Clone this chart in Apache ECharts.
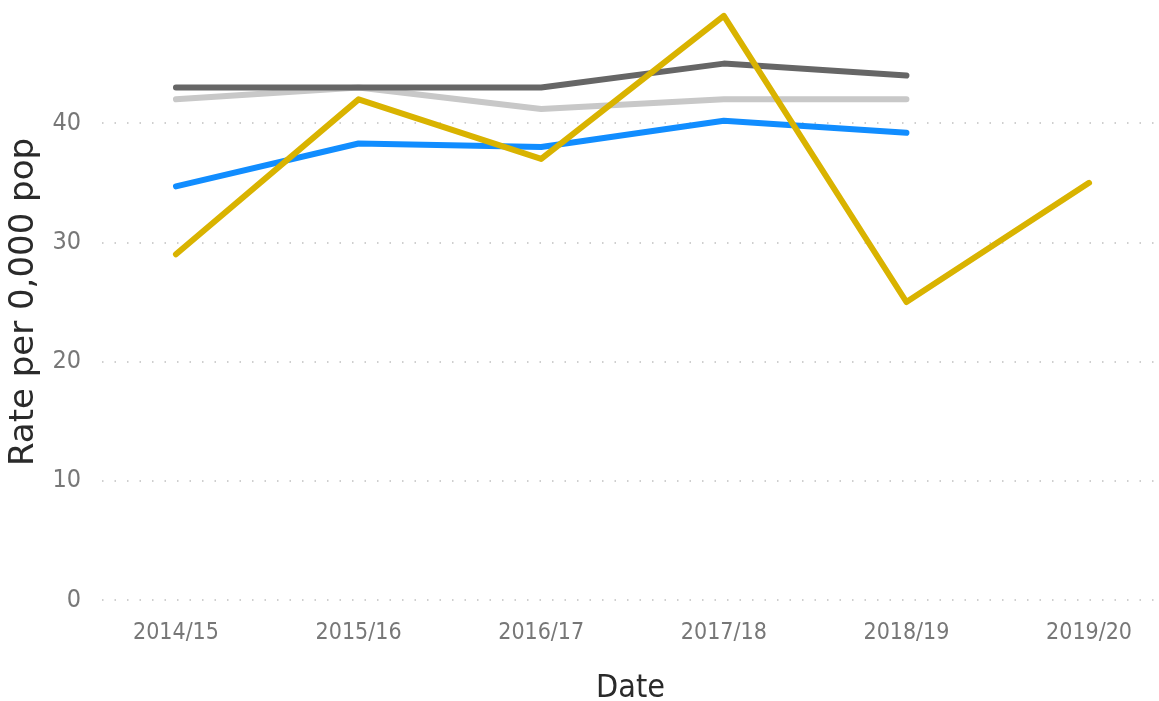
<!DOCTYPE html>
<html>
<head>
<meta charset="utf-8">
<script src="https://cdn.jsdelivr.net/npm/echarts@6/dist/echarts.min.js"></script>
<style>
  html, body { margin: 0; padding: 0; background: #fff; }
  #chart { width: 1159px; height: 701px; }
</style>
</head>
<body>
<div id="chart"></div>
<script>
// Categories on the x axis
const years = ['2014/15', '2015/16', '2016/17', '2017/18', '2018/19', '2019/20'];

// Series values (rate per 0,000 pop)
const lightGrey = [42, 43, 41.2, 42, 42];
const darkGrey = [43, 43, 43, 45, 44];
const blue = [34.7, 38.3, 38, 40.2, 39.2];
const gold = [29, 42, 37, 49, 25, 35];

// Pair each value with its category index
const toPoints = (values) => values.map((v, i) => [i, v]);

const narrowFont = '"DejaVu Sans Condensed", sans-serif';

const chart = echarts.init(document.querySelector('#chart'));

const lineSeries = (name, values, color) => ({
    name: name,
    type: 'line',
    data: toPoints(values),
    showSymbol: false,
    symbol: 'none',
    lineStyle: { color: color, width: 6, cap: 'round', join: 'round' },
    emphasis: { disabled: true }
});

chart.setOption({
    animation: false,
    grid: { left: 102, right: 0, top: 4, bottom: 101, containLabel: false, outerBoundsMode: 'none' },
    xAxis: {
        type: 'value',
        min: -0.405,
        max: 5.383,
        name: 'Date',
        nameLocation: 'middle',
        nameGap: 73,
        nameTextStyle: { fontFamily: narrowFont, fontSize: 32, color: '#2a2a2a' },
        axisLine: { show: false },
        axisTick: { show: false },
        splitLine: { show: false },
        axisLabel: {
            customValues: [0, 1, 2, 3, 4, 5],
            formatter: (v) => years[Math.round(v)] || '',
            fontFamily: narrowFont,
            fontSize: 23,
            color: '#777',
            margin: 22
        }
    },
    yAxis: {
        type: 'value',
        min: 0,
        max: 50,
        interval: 10,
        name: 'Rate per 0,000 pop',
        nameLocation: 'middle',
        nameGap: 52,
        nameTextStyle: { fontFamily: 'DejaVu Sans', fontSize: 34, color: '#2a2a2a' },
        axisLine: { show: false },
        axisTick: { show: false },
        axisLabel: {
            showMaxLabel: false,
            formatter: (v) => (v === 50 ? '' : String(v)),
            fontFamily: narrowFont,
            fontSize: 25,
            color: '#777',
            margin: 21
        },
        splitLine: {
            show: true,
            showMaxLine: false,
            lineStyle: { color: '#cfcfcf', width: 2, type: [1.5, 11] }
        }
    },
    series: [
        lineSeries('Light grey', lightGrey, '#c8c8c8'),
        lineSeries('Dark grey', darkGrey, '#666666'),
        lineSeries('Blue', blue, '#118dff'),
        lineSeries('Gold', gold, '#d9b300')
    ]
});
</script>
</body>
</html>
